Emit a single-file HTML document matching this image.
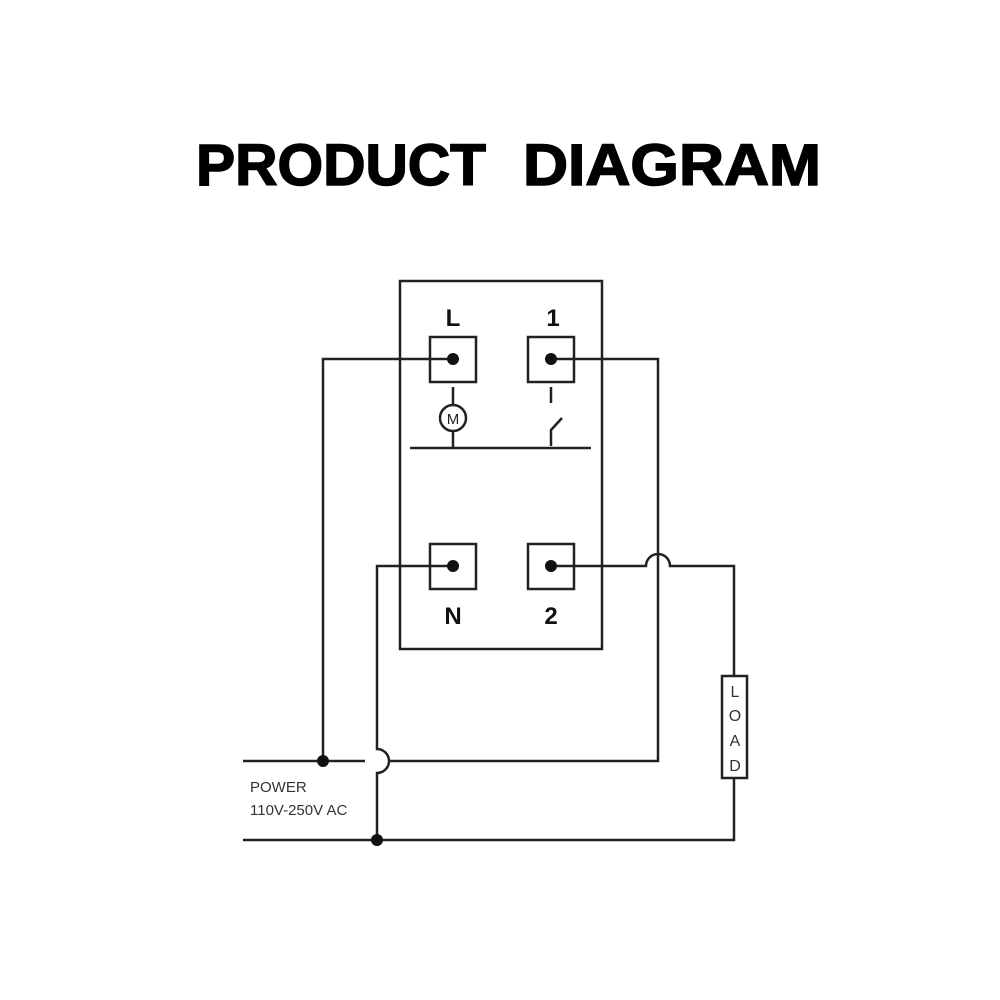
<!DOCTYPE html>
<html><head><style>html,body{margin:0;padding:0;background:#fff}svg{display:block}</style></head>
<body>
<svg width="1000" height="1000" viewBox="0 0 1000 1000" xmlns="http://www.w3.org/2000/svg">
<rect width="1000" height="1000" fill="#fff"/>
<g font-family="Liberation Sans, sans-serif" font-weight="bold" font-size="58" fill="#000" stroke="#000" stroke-width="1.5">
<text x="196" y="185" textLength="290" lengthAdjust="spacingAndGlyphs">PRODUCT</text>
<text x="523" y="185" textLength="298" lengthAdjust="spacingAndGlyphs">DIAGRAM</text>
</g>
<g fill="none" stroke="#222" stroke-width="2.5">
<rect x="400" y="281" width="202" height="368"/>
<rect x="430" y="337" width="46" height="45"/>
<rect x="528" y="337" width="46" height="45"/>
<rect x="430" y="544" width="46" height="45"/>
<rect x="528" y="544" width="46" height="45"/>
<line x1="410" y1="448" x2="591" y2="448"/>
<line x1="453" y1="387" x2="453" y2="406"/>
<circle cx="453" cy="418" r="13"/>
<line x1="453" y1="431" x2="453" y2="448"/>
<line x1="551" y1="387" x2="551" y2="403"/>
<path d="M551 446 L551 430 L562 418"/>
<path d="M453 359 H323 V761"/>
<path d="M551 359 H658 V761 H389"/>
<path d="M243 761 H365"/>
<path d="M453 566 H377 V749 A12 12 0 0 1 377 773 V840"/>
<path d="M551 566 H646 A12 12 0 0 1 670 566 H734 V676"/>
<rect x="722" y="676" width="25" height="102"/>
<path d="M734 778 V840 H243"/>
</g>
<g fill="#111">
<circle cx="453" cy="359" r="6"/><circle cx="551" cy="359" r="6"/>
<circle cx="453" cy="566" r="6"/><circle cx="551" cy="566" r="6"/>
<circle cx="323" cy="761" r="6"/><circle cx="377" cy="840" r="6"/>
</g>
<g font-family="Liberation Sans, sans-serif" font-weight="bold" font-size="24" fill="#111" text-anchor="middle">
<text x="453" y="326">L</text><text x="553" y="326">1</text>
<text x="453" y="624">N</text><text x="551" y="624">2</text>
</g>
<text x="453" y="424" font-family="Liberation Sans, sans-serif" font-size="15" text-anchor="middle" fill="#222">M</text>
<g font-family="Liberation Sans, sans-serif" font-size="16" fill="#333" text-anchor="middle">
<text x="735" y="697">L</text><text x="735" y="721">O</text><text x="735" y="746">A</text><text x="735" y="771">D</text>
</g>
<g font-family="Liberation Sans, sans-serif" font-size="15" fill="#333">
<text x="250" y="792">POWER</text><text x="250" y="815">110V-250V AC</text>
</g>
</svg>
</body></html>
